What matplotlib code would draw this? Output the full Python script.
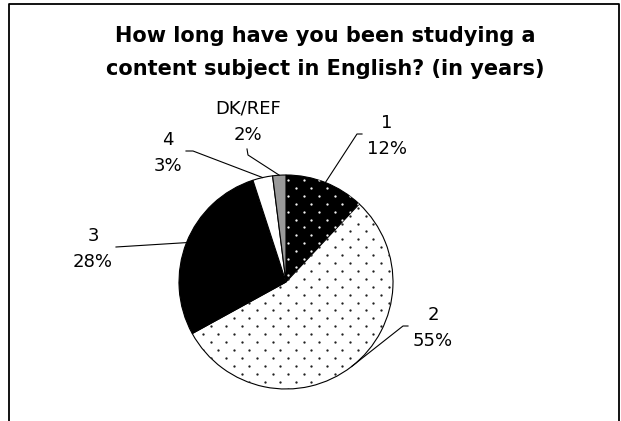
import numpy as np
import matplotlib
matplotlib.use("Agg")
import matplotlib.pyplot as plt

# How long respondents have studied a content subject in English
categories = ["1", "2", "3", "4", "DK/REF"]
shares = [12, 55, 28, 3, 2]

W, H = 621, 421
plt.rcParams["font.family"] = ["DejaVu Sans"]

fig = plt.figure(figsize=(W / 100, H / 100), dpi=100)
ax = fig.add_axes([0, 0, 1, 1])


def flip(x, y):
    # layout is measured from the top-left corner, axes run bottom-up
    return x, H - y


cx, cy = flip(286, 282)
radius = 107

fills = ["black", "white", "black", "white", "#999999"]
wedges, _ = ax.pie(shares, startangle=90, counterclock=False,
                   center=(cx, cy), radius=radius, colors=fills,
                   wedgeprops=dict(edgecolor="black", linewidth=0.8))


def dot_texture(wedge, color, x0, y0):
    xs = x0 + 15.5 * np.arange(-25, 25)
    ys = y0 + 7.9 * np.arange(-40, 40)
    gx, gy = np.meshgrid(xs, ys)
    gx[1::2] += 7.75
    dots = ax.scatter(gx.ravel(), gy.ravel(), s=2.8, c=color,
                      linewidths=0, zorder=3)
    dots.set_clip_path(wedge)


dot_texture(wedges[0], "#f4f4f4", *flip(288, 180))
dot_texture(wedges[1], "#202020", *flip(288, 184))

# labels with leader lines to the middle of each slice
label_pos = [(387, 136), (433, 328), (93, 249), (168, 153), (248, 122)]
elbows = [[(362, 134), (357, 134)],
          [(408, 326), (403, 326)],
          [(116, 247)],
          [(186, 151), (193, 151)],
          [(247, 149), (248, 155)]]

bounds = np.cumsum([0] + shares) / sum(shares) * 360
mids = np.deg2rad(90 - (bounds[:-1] + bounds[1:]) / 2)

for name, val, pos, elb, m in zip(categories, shares, label_pos, elbows, mids):
    x, y = flip(*pos)
    ax.text(x, y, f"{name}\n{val}%", ha="center", va="center",
            fontsize=13, linespacing=1.6)
    pts = [flip(*p) for p in elb]
    pts.append((cx + radius * np.cos(m), cy + radius * np.sin(m)))
    px, py = zip(*pts)
    ax.plot(px, py, color="black", linewidth=0.8, zorder=4)

tx, ty = flip(325, 26)
ax.text(tx, ty, "How long have you been studying a\ncontent subject in English? (in years)",
        ha="center", va="top", fontsize=15, fontweight="bold", linespacing=1.8)

# chart frame
bx = [9, 9, 619, 619]
by = [421, 4, 4, 421]
fx, fy = zip(*[flip(a, b) for a, b in zip(bx, by)])
ax.plot(fx, fy, color="black", linewidth=1.3, clip_on=False)

ax.set_xlim(0, W)
ax.set_ylim(0, H)
ax.axis("off")

fig.savefig("out.png", dpi=100)
